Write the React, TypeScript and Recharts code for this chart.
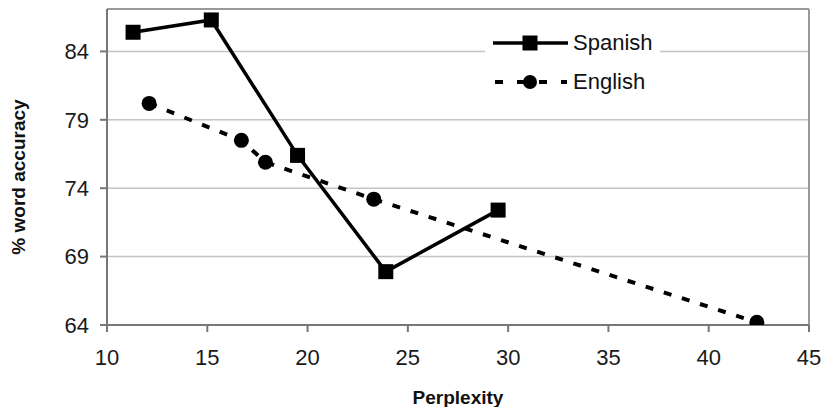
import React from 'react';
import {
  LineChart,
  Line,
  XAxis,
  YAxis,
  CartesianGrid,
  ReferenceLine,
  Legend,
  Label,
} from 'recharts';

const spanishPerplexity = [11.3, 15.2, 19.5, 23.9, 29.5];
const spanishAccuracy = [85.4, 86.3, 76.4, 67.9, 72.4];

const englishPerplexity = [12.1, 16.7, 17.9, 23.3, 42.4];
const englishAccuracy = [80.2, 77.5, 75.9, 73.2, 64.2];

const xTicks = [10, 15, 20, 25, 30, 35, 40, 45];
const yTicks = [64, 69, 74, 79, 84];

const FONT = '"Liberation Sans", Arial, sans-serif';

const spanishData = spanishPerplexity.map((x, i) => ({ x, y: spanishAccuracy[i] }));
const englishData = englishPerplexity.map((x, i) => ({ x, y: englishAccuracy[i] }));

function SquareDot(props: any) {
  const { cx, cy, index } = props;
  if (cx == null || cy == null) return null;
  return <rect key={`sq-${index}`} x={cx - 7.5} y={cy - 7.5} width={15} height={15} fill="#000" />;
}

function CircleDot(props: any) {
  const { cx, cy, index } = props;
  if (cx == null || cy == null) return null;
  return <circle key={`ci-${index}`} cx={cx} cy={cy} r={7.5} fill="#000" />;
}

function ChartLegend() {
  return (
    <svg width={175} height={76} style={{ display: 'block', background: '#fff' }}>
      {/* Spanish */}
      <line x1={8} y1={19} x2={83} y2={19} stroke="#000" strokeWidth={3.5} />
      <rect x={37.5} y={11.5} width={15} height={15} fill="#000" />
      <text x={88} y={26} fontSize={22} fontFamily={FONT} fill="#111">
        Spanish
      </text>
      {/* English */}
      <line x1={10} y1={58} x2={82} y2={58} stroke="#000" strokeWidth={4} strokeDasharray="8 14" />
      <circle cx={45} cy={58} r={7} fill="#000" />
      <text x={88} y={65} fontSize={22} fontFamily={FONT} fill="#111">
        English
      </text>
    </svg>
  );
}

function YTitle(props: any) {
  const { viewBox } = props;
  const cx = 18;
  const cy = viewBox.y + viewBox.height / 2 + 10;
  return (
    <text
      x={cx}
      y={cy}
      transform={`rotate(-90 ${cx} ${cy})`}
      textAnchor="middle"
      dominantBaseline="central"
      fontSize={19}
      fontWeight="bold"
      fontFamily={FONT}
      fill="#111"
    >
      % word accuracy
    </text>
  );
}

export default function App() {
  return (
    <div style={{ position: 'absolute', left: 0, top: 0, width: 824, height: 407, background: '#fff' }}>
      <LineChart width={824} height={407} margin={{ top: 9, right: 15, bottom: 0, left: 0 }}>
        <CartesianGrid horizontal vertical={false} stroke="#c4c4c4" strokeWidth={1.5} />
        <XAxis
          type="number"
          dataKey="x"
          domain={[10, 45]}
          ticks={xTicks}
          allowDataOverflow
          height={82}
          stroke="#777"
          strokeWidth={2}
          tickSize={7}
          tickMargin={17}
          tick={{ fontSize: 22, fill: '#1a1a1a', fontFamily: FONT }}
        >
          <Label
            value="Perplexity"
            position="insideBottom"
            offset={3}
            style={{ fontSize: 19, fontWeight: 'bold', fontFamily: FONT, fill: '#111' }}
          />
        </XAxis>
        <YAxis
          type="number"
          domain={[64, 87.1]}
          ticks={yTicks}
          allowDataOverflow
          width={107}
          stroke="#777"
          strokeWidth={2}
          tickSize={7}
          tickMargin={11}
          tick={{ fontSize: 22, fill: '#1a1a1a', fontFamily: FONT }}
        >
          <Label content={<YTitle />} />
        </YAxis>
        <ReferenceLine y={87.1} stroke="#999" strokeWidth={2} />
        <ReferenceLine x={45} stroke="#999" strokeWidth={2} />
        <Legend
          layout="horizontal"
          verticalAlign="middle"
          align="center"
          content={<ChartLegend />}
          wrapperStyle={{ position: 'absolute', left: 485, top: 24, width: 175, height: 76 }}
        />
        <Line
          data={englishData}
          dataKey="y"
          name="English"
          stroke="#000"
          strokeWidth={4}
          strokeDasharray="8 11"
          dot={<CircleDot />}
          activeDot={false}
          isAnimationActive={false}
        />
        <Line
          data={spanishData}
          dataKey="y"
          name="Spanish"
          stroke="#000"
          strokeWidth={3.5}
          dot={<SquareDot />}
          activeDot={false}
          isAnimationActive={false}
        />
      </LineChart>
    </div>
  );
}
